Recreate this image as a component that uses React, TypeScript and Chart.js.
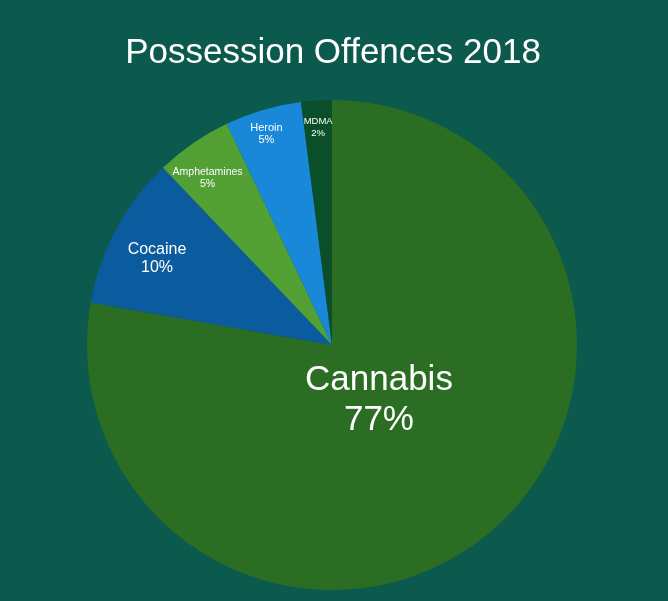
import React, { useEffect, useRef } from "react";
import { Chart, registerables } from "chart.js";

Chart.register(...registerables);

const categories = ["Cannabis", "Cocaine", "Amphetamines", "Heroin", "MDMA"];
const shares = [77, 10, 5, 5, 2];
const sliceColors = ["#2a6d23", "#0a5c9f", "#53a035", "#1a88d9", "#0b4f2a"];

// Per-slice label styling: font size, distance from centre (fraction of radius),
// small angular nudge (degrees) and spacing between the name and percentage lines.
const labelFontSizes = [35, 16, 10.5, 11, 9.5];
const labelRadii = [0.295, 0.796, 0.849, 0.902, 0.892];
const labelAngleNudges = [-0.5, -2, -2.2, -0.9, 0];
const labelLineGaps = [40, 18, 12, 12, 12];

const BG = "#0c5a4e";
const FONT = `"Liberation Sans", Arial, Helvetica, sans-serif`;

const sliceLabels = {
  id: "sliceLabels",
  afterDatasetsDraw(chart: any) {
    const ctx = chart.ctx;
    const meta = chart.getDatasetMeta(0);
    ctx.save();
    ctx.fillStyle = "#ffffff";
    ctx.textAlign = "center";
    ctx.textBaseline = "middle";
    meta.data.forEach((arc: any, i: number) => {
      const mid = (arc.startAngle + arc.endAngle) / 2 + (labelAngleNudges[i] * Math.PI) / 180;
      const r = arc.outerRadius * labelRadii[i];
      const x = arc.x + Math.cos(mid) * r;
      const y = arc.y + Math.sin(mid) * r;
      const gap = labelLineGaps[i];
      ctx.font = `${labelFontSizes[i]}px ${FONT}`;
      ctx.fillText(categories[i], x, y - gap / 2);
      ctx.fillText(`${shares[i]}%`, x, y + gap / 2);
    });
    ctx.textBaseline = "alphabetic";
    ctx.font = `35px ${FONT}`;
    ctx.fillText("Possession Offences 2018", 333, 63);
    ctx.restore();
  },
};

export default function App() {
  const ref = useRef<HTMLCanvasElement>(null);
  useEffect(() => {
    if (!ref.current) return;
    const chart = new Chart(ref.current, {
      type: "pie",
      data: {
        labels: categories,
        datasets: [
          {
            data: shares,
            backgroundColor: sliceColors,
            borderWidth: 0,
          },
        ],
      },
      options: {
        animation: false,
        responsive: false,
        layout: { padding: { top: 100, bottom: 11, left: 0, right: 4 } },
        plugins: {
          legend: { display: false },
          tooltip: { enabled: false },
          title: { display: false },
        },
      },
      plugins: [sliceLabels],
    });
    return () => chart.destroy();
  }, []);
  return (
    <div style={{ position: "fixed", left: 0, top: 0, width: 668, height: 601, background: BG }}>
      <canvas ref={ref} width={668} height={601} style={{ display: "block" }} />
    </div>
  );
}
